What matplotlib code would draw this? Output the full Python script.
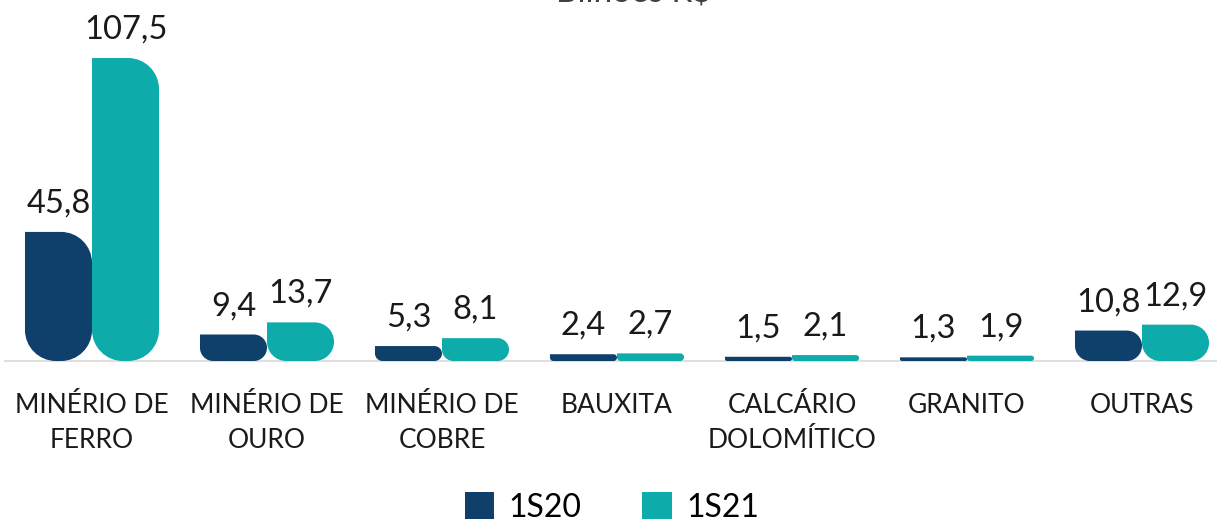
import numpy as np
import matplotlib
matplotlib.use('Agg')
import matplotlib.pyplot as plt
from matplotlib.path import Path
from matplotlib.patches import PathPatch, Patch

plt.rcParams['font.family'] = ['Lato', 'DejaVu Sans']

categories = ['MINÉRIO DE\nFERRO', 'MINÉRIO DE\nOURO', 'MINÉRIO DE\nCOBRE', 'BAUXITA',
              'CALCÁRIO\nDOLOMÍTICO', 'GRANITO', 'OUTRAS']
s1s20 = [45.8, 9.4, 5.3, 2.4, 1.5, 1.3, 10.8]
s1s21 = [107.5, 13.7, 8.1, 2.7, 2.1, 1.9, 12.9]
series_names = ['1S20', '1S21']
colors = ['#0f3f6b', '#0eabab']


def fmt(v):
    return f'{v:.1f}'.replace('.', ',')


def rounded_bar(ax, x0, w, h, color, px_x, px_y, rmax=31):
    # top-left square, top-right and both bottom corners rounded
    h_px = h * px_y
    w_px = w * px_x
    r = min(rmax, h_px / 2, w_px / 2)
    rx, ry = r / px_x, r / px_y
    k = 0.5523
    x1 = x0 + w
    verts = [
        (x0, ry),
        (x0, h),
        (x1 - rx, h),
        (x1 - rx + k * rx, h), (x1, h - ry + k * ry), (x1, h - ry),
        (x1, ry),
        (x1, ry - k * ry), (x1 - rx + k * rx, 0), (x1 - rx, 0),
        (x0 + rx, 0),
        (x0 + rx - k * rx, 0), (x0, ry - k * ry), (x0, ry),
        (x0, ry),
    ]
    codes = [Path.MOVETO, Path.LINETO, Path.LINETO,
             Path.CURVE4, Path.CURVE4, Path.CURVE4,
             Path.LINETO,
             Path.CURVE4, Path.CURVE4, Path.CURVE4,
             Path.LINETO,
             Path.CURVE4, Path.CURVE4, Path.CURVE4,
             Path.CLOSEPOLY]
    ax.add_patch(PathPatch(Path(verts, codes), facecolor=color, edgecolor='none', zorder=3))


fig = plt.figure(figsize=(12.17, 5.24), dpi=100)
W, H = 1217, 524
left_px, right_px = 4.5, 1229.5
base_px, top_px = 361, 22.8
ax = fig.add_axes([left_px / W, (H - base_px) / H, (right_px - left_px) / W, (base_px - top_px) / H])

x = np.arange(len(categories))
ax.set_xlim(-0.5, len(categories) - 0.5)
ax.set_ylim(0, 120)

p0 = ax.transData.transform((0, 0))
p1 = ax.transData.transform((1, 1))
px_x, px_y = p1[0] - p0[0], p1[1] - p0[1]

bw = 0.383
for i in range(len(categories)):
    for j, vals in enumerate([s1s20, s1s21]):
        x0 = x[i] - bw + j * bw
        rounded_bar(ax, x0, bw, vals[i], colors[j], px_x, px_y)
        ax.annotate(fmt(vals[i]), (x0 + bw / 2, vals[i]), xytext=(0, 14),
                    textcoords='offset points', ha='center', va='baseline',
                    fontsize=23.5, color='#1a1a1a')

ax.set_xticks(x)
ax.set_xticklabels(categories, fontsize=19, color='#1a1a1a', linespacing=1.5)
ax.tick_params(axis='x', length=0, pad=23)
ax.set_yticks([])
for s in ['top', 'right', 'left']:
    ax.spines[s].set_visible(False)
ax.spines['bottom'].set_color('#d9d9d9')
ax.spines['bottom'].set_linewidth(1.2)

fig.text(634 / W, 1 - 3 / H, 'Bilhões R$', ha='center', va='baseline',
         fontsize=24, color='#404040')

handles = [Patch(facecolor=c, edgecolor='none') for c in colors]
fig.legend(handles, series_names, loc='lower center', bbox_to_anchor=(612 / W, 0.002),
           ncol=2, frameon=False, fontsize=23, handlelength=0.92, handleheight=0.92,
           handletextpad=0.45, columnspacing=1.9, borderaxespad=0, borderpad=0)

fig.savefig('out.png', dpi=100)
